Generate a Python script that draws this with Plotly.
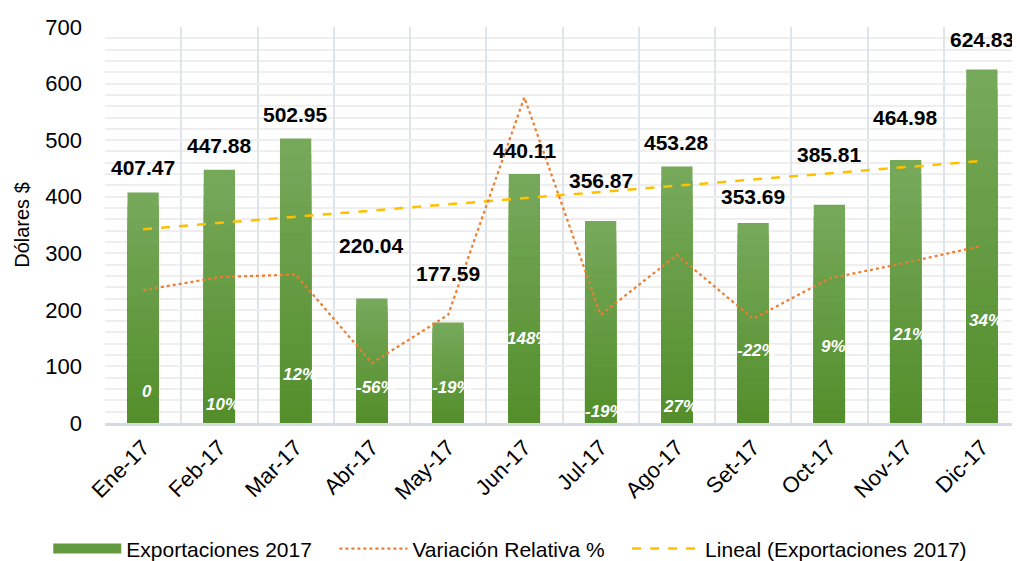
import numpy as np
import plotly.graph_objects as go

# --- data ---
meses = ["Ene-17", "Feb-17", "Mar-17", "Abr-17", "May-17", "Jun-17",
         "Jul-17", "Ago-17", "Set-17", "Oct-17", "Nov-17", "Dic-17"]
exportaciones = [407.47, 447.88, 502.95, 220.04, 177.59, 440.11,
                 356.87, 453.28, 353.69, 385.81, 464.98, 624.83]
variacion = [0, 10, 12, -56, -19, 148, -19, 27, -22, 9, 21, 34]
variacion_txt = ["0", "10%", "12%", "-56%", "-19%", "148%",
                 "-19%", "27%", "-22%", "9%", "21%", "34%"]

# label placement (style only)
valor_yshift = [25, 24, 24, 53, 49, 24, 41, 24, 26, 50, 42, 30]
pct_y = [55, 32, 85, 62, 62, 150, 21, 30, 129, 136, 156, 182]

FONT = "Liberation Sans, Arial, sans-serif"
PAD = "\u00a0" * 3  # extra room between legend entries

fig = go.Figure()

# bars with a top-light / bottom-dark gradient made from overlaid layers
top_rgb = np.array([0x76, 0xA8, 0x5A])
bot_rgb = np.array([0x54, 0x8F, 0x2C])
n_layers = 18
for k in range(n_layers):
    frac = 1 - k / n_layers
    c = top_rgb + (bot_rgb - top_rgb) * (k / (n_layers - 1))
    color = "rgb(%d,%d,%d)" % tuple(c.round().astype(int))
    fig.add_trace(go.Bar(
        x=meses, y=[v * frac for v in exportaciones],
        name="Exportaciones 2017", showlegend=False,
        marker=dict(color=color, line=dict(width=0)),
        width=0.41, hoverinfo="skip" if k else None,
    ))

# wide legend swatch for the bars, as Excel draws it
fig.add_trace(go.Scatter(
    x=[None], y=[None], mode="lines", name="Exportaciones 2017" + PAD,
    line=dict(color="#629b3f", width=12),
))

fig.add_trace(go.Scatter(
    x=meses, y=variacion, name="Variación Relativa %" + PAD, yaxis="y2",
    mode="lines", line=dict(color="#ED7D31", width=2.2, dash="dot"),
))

# linear trend of exportaciones
idx = np.arange(1, len(exportaciones) + 1)
m, b = np.polyfit(idx, exportaciones, 1)
fig.add_trace(go.Scatter(
    x=meses, y=m * idx + b, name="Lineal (Exportaciones 2017)",
    mode="lines", line=dict(color="#FFC000", width=2.5, dash="dash"),
))

annotations = []
for mes, v, ys in zip(meses, exportaciones, valor_yshift):
    annotations.append(dict(
        x=mes, y=v, yshift=ys, text=f"<b>{v:.2f}</b>", showarrow=False,
        font=dict(family=FONT, size=21, color="black"),
    ))
for mes, t, py in zip(meses, variacion_txt, pct_y):
    annotations.append(dict(
        x=mes, y=py, xshift=4, text=f"<b><i>{t}</i></b>", showarrow=False,
        font=dict(family=FONT, size=17, color="white"),
    ))

# page body adds an 8px margin, so the figure is 1012x553
fig.update_layout(
    width=1012, height=553,
    margin=dict(l=97, r=0, t=19, b=138, autoexpand=False),
    plot_bgcolor="white", paper_bgcolor="white",
    barmode="overlay",
    font=dict(family=FONT, size=20, color="black"),
    annotations=annotations,
    xaxis=dict(
        range=[-0.5, 11.5], tickangle=-45, tickson="boundaries",
        showgrid=True, gridcolor="#dfe3ea", gridwidth=2,
        showline=True, linecolor="#d6dae1", linewidth=3,
        ticks="", tickfont=dict(size=22), automargin=False,
    ),
    yaxis=dict(
        range=[0, 700], tickvals=list(range(0, 701, 100)),
        showgrid=True, gridcolor="#eeeeee", gridwidth=2,
        minor=dict(dtick=20, showgrid=True, gridcolor="#eeeeee", gridwidth=2),
        zeroline=False, tickfont=dict(size=22), ticks="",
        ticklabelstandoff=22, automargin=False,
        title=dict(text="Dólares $", font=dict(size=20), standoff=10),
    ),
    yaxis2=dict(
        overlaying="y", range=[-102, 202], visible=False,
    ),
    legend=dict(
        orientation="h", x=-0.062, xanchor="left", y=-0.318, yanchor="middle",
        font=dict(size=21), itemwidth=68, traceorder="normal",
    ),
)

fig.write_html("out.html")
